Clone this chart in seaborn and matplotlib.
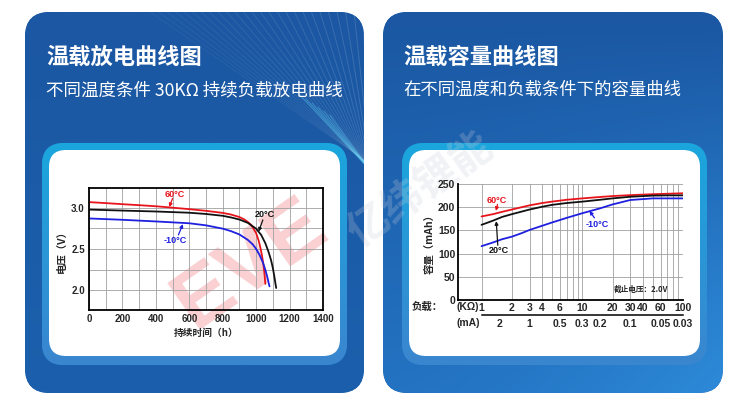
import numpy as np
import seaborn as sns
import matplotlib.colors as mcolors
from matplotlib import pyplot as plt
from matplotlib.patches import FancyBboxPatch
from matplotlib.ticker import FixedLocator, NullFormatter, NullLocator

# left chart: discharge curves at 30KΩ load
hours_60 = [0, 100, 200, 300, 400, 500, 600, 700, 800, 850, 900, 930, 960, 980,
            1000, 1015, 1025, 1035, 1043, 1050, 1055]
volt_60 = [3.065, 3.053, 3.04, 3.028, 3.015, 2.998, 2.98, 2.96, 2.935, 2.915, 2.885,
           2.855, 2.81, 2.76, 2.69, 2.60, 2.52, 2.42, 2.32, 2.20, 2.08]
hours_20 = [0, 200, 400, 600, 700, 800, 850, 900, 950, 1000, 1030, 1055, 1075, 1090,
            1100, 1108, 1115, 1120]
volt_20 = [2.975, 2.963, 2.952, 2.937, 2.922, 2.90, 2.88, 2.855, 2.815, 2.745, 2.67,
           2.57, 2.46, 2.36, 2.27, 2.18, 2.09, 2.03]
hours_m10 = [0, 200, 400, 600, 700, 800, 850, 900, 950, 980, 1000, 1020, 1040, 1055,
             1067, 1075, 1080]
volt_m10 = [2.868, 2.852, 2.832, 2.81, 2.785, 2.745, 2.715, 2.675, 2.61, 2.555, 2.50,
            2.43, 2.34, 2.25, 2.16, 2.09, 2.05]

# right chart: capacity versus load
load_kohm = [1, 1.3, 1.6, 2, 2.5, 3, 4, 5, 7, 10, 15, 20, 30, 50, 70, 100]
cap_60 = [180, 185, 190, 195, 200, 204, 209, 212, 216, 219, 222, 224, 226, 228, 229, 230]
cap_20 = [162, 171, 179, 185, 190.5, 195, 201, 205, 209, 212, 216, 219, 222.5, 225,
          225.5, 225.5]
cap_m10 = [116, 124, 131, 136.5, 144, 151, 160, 167, 177, 187, 197.5, 206, 215.5, 219,
           219, 219]
kohm_ticks = [1, 2, 3, 4, 6, 10, 20, 30, 40, 60, 100]
ma_ticks = [2, 1, 0.5, 0.3, 0.2, 0.1, 0.05, 0.03]
ma_labels = ["2", "1", "0.5", "0.3", "0.2", "0.1", "0.05", "0.03"]
nominal_v = 3.0

RED, BLACK, BLUE = "#e8141c", "#111111", "#1f1fe0"
GRID = "#a0a0a0"

sns.set_style("white")
CJK = ["Noto Sans CJK SC", "DejaVu Sans"]
NUM = ["Liberation Sans", "Noto Sans CJK SC", "DejaVu Sans"]
plt.rcParams["font.family"] = CJK

W, H = 750, 417
fig = plt.figure(figsize=(W / 100, H / 100), dpi=100)


def box(x0, y0, x1, y1):
    return [x0 / W, 1 - y1 / H, (x1 - x0) / W, (y1 - y0) / H]


bg = fig.add_axes([0, 0, 1, 1])
bg.axis("off")


def rounded(x0, y0, x1, y1, r, fc, z=1):
    p = FancyBboxPatch((x0, y0), x1 - x0, y1 - y0,
                       boxstyle=f"round,pad=0,rounding_size={r}",
                       fc=fc, ec="none", zorder=z)
    bg.add_patch(p)
    return p


def gradient(x0, y0, x1, y1, top, bottom, clip, corner=None, z=1):
    ty = np.linspace(0, 1, 100)[:, None, None]
    tx = np.linspace(0, 1, 100)[None, :, None]
    img = np.array(mcolors.to_rgb(top)) * (1 - ty) + np.array(mcolors.to_rgb(bottom)) * ty
    img = np.broadcast_to(img, (100, 100, 3)).copy()
    if corner is not None:
        w = (tx * ty) ** 1.5
        img = img * (1 - w) + np.array(mcolors.to_rgb(corner)) * w
    im = bg.imshow(img, extent=(x0, x1, y1, y0), aspect="auto",
                   interpolation="bilinear", zorder=z)
    im.set_clip_path(clip)


# cards
card_l = rounded(25, 12, 364, 393, 25, "#1c5da8")
gradient(25, 12, 364, 393, "#1b57a2", "#1c60ad", card_l)
card_r = rounded(383, 12, 723, 393, 25, "#1d60ab")
gradient(383, 12, 723, 393, "#1b57a2", "#2373c2", card_r, corner="#2d8ad8")

# light streaks on the left card
for i in range(26):
    xs = 150 + i * 8.5
    ln, = bg.plot([xs, 372], [12, 165 + i * 0.6], color="white",
                  alpha=0.05 + 0.004 * i, lw=0.7, zorder=2)
    ln.set_clip_path(card_l)
for i in range(6):
    ln, = bg.plot([300 + i * 6, 370], [95 + i * 4, 170], color="#66dcff",
                  alpha=0.35, lw=0.8, zorder=2)
    ln.set_clip_path(card_l)

# inner panels
for x0, x1 in [(42, 347), (402, 707)]:
    border = rounded(x0, 143, x1, 365, 22, "#2b8fd6", z=3)
    gradient(x0, 143, x1, 365, "#1ba6de", "#3a86cf", border, z=3)
    rounded(x0 + 7, 150, x1 - 7, 356, 17, "white", z=4)

bg.set_xlim(0, W)
bg.set_ylim(H, 0)

# headers
bg.text(46, 57, "温载放电曲线图", fontsize=16, weight="heavy", color="white",
        va="center", family=CJK)
bg.text(46, 90, "不同温度条件 30KΩ 持续负载放电曲线", fontsize=12.6, color="white",
        va="center", family=CJK)
bg.text(403, 57, "温载容量曲线图", fontsize=16, weight="heavy", color="white",
        va="center", family=CJK)
bg.text(403, 90, "在不同温度和负载条件下的容量曲线", fontsize=12.5, color="white",
        va="center", family=CJK)

# ---- left chart ----
ax1 = fig.add_axes(box(89, 188, 323, 310))
ax1.text(0.69, 0.38, "EVE", transform=ax1.transAxes, rotation=35, fontsize=60,
         weight="bold", color=RED, alpha=0.2, ha="center",
         va="center", clip_on=False, zorder=0, family=NUM)
for t, v, c in [(hours_60, volt_60, RED), (hours_20, volt_20, BLACK),
                (hours_m10, volt_m10, BLUE)]:
    sns.lineplot(x=t, y=v, color=c, lw=1.3, sort=False, estimator=None, ax=ax1)
ax1.set_xlim(0, 1400)
ax1.set_ylim(1.765, 3.235)
ax1.set_xticks(range(0, 1401, 200))
ax1.xaxis.set_minor_locator(FixedLocator(range(100, 1400, 200)))
ax1.set_yticks([2.0, 2.5, 3.0])
ax1.yaxis.set_minor_locator(FixedLocator([2.25, 2.75]))
ax1.grid(True, which="both", color=GRID, lw=0.6)
ax1.set_axisbelow(True)
ax1.tick_params(which="both", length=0, pad=3)
for lab in ax1.get_xticklabels() + ax1.get_yticklabels():
    lab.set_fontsize(7)
    lab.set_fontweight("bold")
    lab.set_family(NUM)
for s in ax1.spines.values():
    s.set_color("black")
    s.set_linewidth(1.3)
    s.set_visible(True)
ax1.set_xlabel("持续时间（h）", fontsize=7, weight="bold", labelpad=3)
ax1.set_ylabel("电压（V）", fontsize=7.5, weight="bold", labelpad=3)

ax1.text(514, 3.16, "60°C", color=RED, fontsize=6.5, weight="bold",
         ha="center", va="center", family=NUM)
ax1.text(1054, 2.92, "20°C", color=BLACK, fontsize=6.5, weight="bold",
         ha="center", va="center", family=NUM)
ax1.text(514, 2.60, "-10°C", color=BLUE, fontsize=6.5, weight="bold",
         ha="center", va="center", family=NUM)
for start, tip, c in [((500, 3.11), (480, 3.005), RED),
                      ((1040, 2.85), (1015, 2.71), BLACK),
                      ((535, 2.67), (562, 2.80), BLUE)]:
    ax1.annotate("", xy=tip, xytext=start,
                 arrowprops=dict(arrowstyle="-|>", color=c, lw=0.9,
                                 mutation_scale=5, shrinkA=0, shrinkB=0))

# watermark across the gap
bg.text(420, 190, "亿纬锂能", rotation=35, fontsize=30, weight="bold",
        color="#c9ced8", alpha=0.25, ha="center", va="center", zorder=6,
        family=CJK)

# ---- right chart ----
ax2 = fig.add_axes(box(458, 184, 683, 300))
ax2.set_facecolor("none")
for r, c in [(cap_60, RED), (cap_20, BLACK), (cap_m10, BLUE)]:
    sns.lineplot(x=load_kohm, y=r, color=c, lw=1.3, sort=False, estimator=None, ax=ax2)
ax2.set_xscale("log")
ax2.set_xlim(0.584, 100)
ax2.set_ylim(0, 250)
ax2.set_yticks(range(0, 251, 50))
ax2.set_xticks(kohm_ticks)
ax2.set_xticklabels([str(k) for k in kohm_ticks])
minor = [m * d for d in (1, 10) for m in range(2, 10)]
ax2.xaxis.set_minor_locator(FixedLocator(minor))
ax2.xaxis.set_minor_formatter(NullFormatter())
ax2.grid(True, which="both", color=GRID, lw=0.6)
ax2.set_axisbelow(True)
ax2.tick_params(which="both", length=0)
ax2.tick_params(axis="x", pad=2)
ax2.tick_params(axis="y", pad=2)
for lab in ax2.get_xticklabels() + ax2.get_yticklabels():
    lab.set_fontsize(7.5)
    lab.set_fontweight("bold")
    lab.set_family(NUM)
for k in ["top", "right"]:
    ax2.spines[k].set_visible(False)
for k in ["left", "bottom"]:
    ax2.spines[k].set_visible(True)
    ax2.spines[k].set_color("black")
    ax2.spines[k].set_linewidth(1.3)
ax2.set_ylabel("容量（mAh）", fontsize=7.5, weight="bold", labelpad=2)
ax2.text(38, 23, "截止电压：2.0V", fontsize=5.5, weight="bold", ha="center",
         va="center", family=CJK)

ax2.text(1.43, 215, "60°C", color=RED, fontsize=6.5, weight="bold",
         ha="center", va="center", family=NUM)
ax2.text(1.5, 107, "20°C", color=BLACK, fontsize=6.5, weight="bold",
         ha="center", va="center", family=NUM)
ax2.text(14.1, 163, "-10°C", color=BLUE, fontsize=6.5, weight="bold",
         ha="center", va="center", family=NUM)
for start, tip, c in [((1.44, 206), (1.39, 192), RED),
                      ((1.45, 118), (1.40, 170), BLACK),
                      ((13.2, 177), (11.8, 192), BLUE)]:
    ax2.annotate("", xy=tip, xytext=start,
                 arrowprops=dict(arrowstyle="-|>", color=c, lw=0.9,
                                 mutation_scale=5, shrinkA=0, shrinkB=0))

# current axis (mA) below the load axis
ax3 = fig.add_axes(box(458, 313, 683, 315))
ax3.set_facecolor("none")
ax3.set_xscale("log")
ax3.set_xlim(0.584, 100)
ax3.set_yticks([])
ax3.set_xticks([nominal_v / i for i in ma_ticks])
ax3.set_xticklabels(ma_labels)
ax3.xaxis.set_minor_locator(NullLocator())
ax3.tick_params(axis="x", direction="in", length=2.5, width=1, pad=3)
for lab in ax3.get_xticklabels():
    lab.set_fontsize(7.5)
    lab.set_fontweight("bold")
    lab.set_family(NUM)
for k in ["top", "right", "left"]:
    ax3.spines[k].set_visible(False)
ax3.spines["bottom"].set_visible(True)
ax3.spines["bottom"].set_color("black")
ax3.spines["bottom"].set_linewidth(1.1)
ax3.spines["bottom"].set_bounds(1, 100)

bg.text(427, 307, "负载：", fontsize=7.5, weight="bold", ha="center",
        va="center", zorder=6, family=CJK)
bg.text(468, 307, "(KΩ)", fontsize=7.5, weight="bold", ha="center",
        va="center", zorder=6, family=NUM)
bg.text(468, 323, "(mA)", fontsize=7.5, weight="bold", ha="center",
        va="center", zorder=6, family=NUM)

fig.savefig("out.png", dpi=100)
